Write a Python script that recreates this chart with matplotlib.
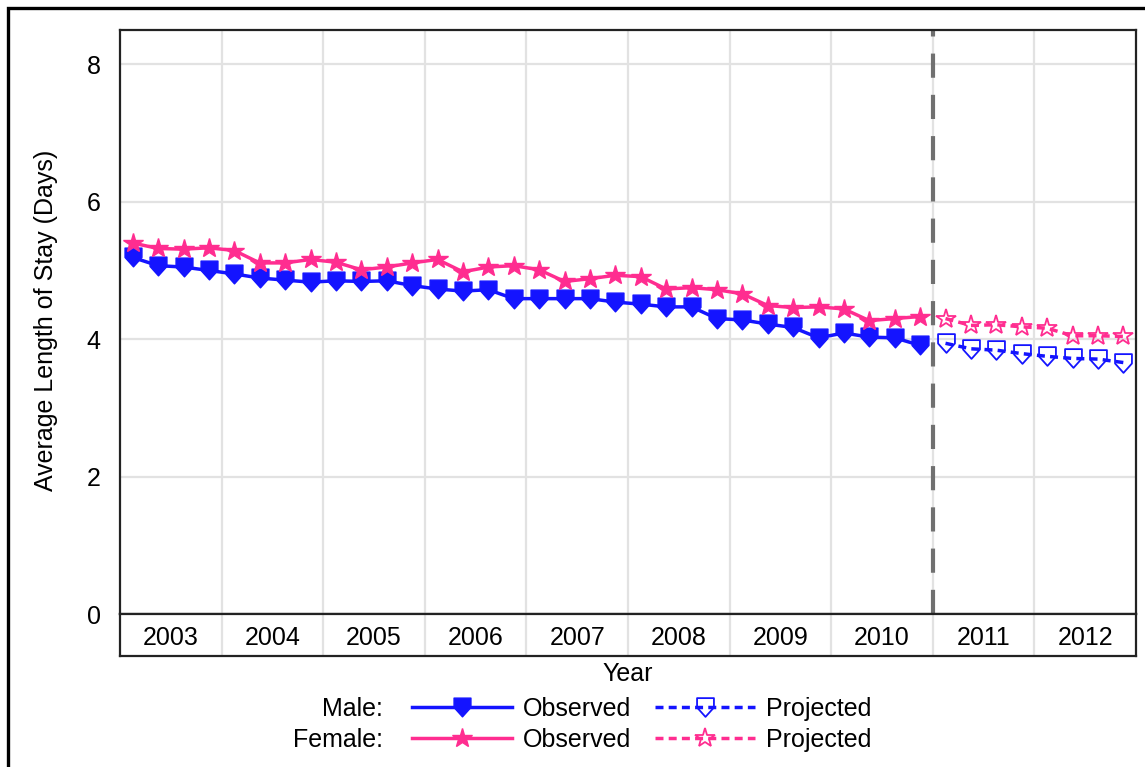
import numpy as np
import matplotlib
matplotlib.use("Agg")
import matplotlib.pyplot as plt
from matplotlib.path import Path
from matplotlib.lines import Line2D
from matplotlib.patches import Rectangle

plt.rcParams['font.family'] = ['Liberation Sans', 'DejaVu Sans']

# data: quarterly averages, observed 2003-2010, projected 2011-2012
years = [2003, 2004, 2005, 2006, 2007, 2008, 2009, 2010, 2011, 2012]
obs_years = np.repeat(years[:8], 4)
proj_years = np.repeat(years[8:], 4)
obs_qtr = np.tile([1, 2, 3, 4], 8)
proj_qtr = np.tile([1, 2, 3, 4], 2)

male_obs = [5.19, 5.07, 5.05, 5.00, 4.95, 4.89, 4.86, 4.83,
            4.85, 4.84, 4.85, 4.78, 4.73, 4.70, 4.72, 4.59,
            4.59, 4.59, 4.59, 4.54, 4.51, 4.47, 4.47, 4.30,
            4.28, 4.22, 4.17, 4.02, 4.09, 4.03, 4.02, 3.91]
female_obs = [5.40, 5.32, 5.31, 5.33, 5.29, 5.11, 5.11, 5.16,
              5.12, 5.01, 5.05, 5.11, 5.16, 4.98, 5.05, 5.07,
              5.01, 4.84, 4.88, 4.93, 4.91, 4.73, 4.75, 4.72,
              4.66, 4.49, 4.46, 4.47, 4.44, 4.27, 4.30, 4.33]
male_proj = [3.94, 3.86, 3.84, 3.79, 3.75, 3.72, 3.71, 3.66]
female_proj = [4.30, 4.20, 4.21, 4.18, 4.16, 4.05, 4.05, 4.04]

# quarter midpoints on a decimal-year axis
x_obs = obs_years + (obs_qtr - 0.5) / 4
x_proj = proj_years + (proj_qtr - 0.5) / 4

blue = '#1414FF'
pink = '#FF2D90'
grid_c = '#E2E2E2'
fs = 18
dash = (0, (2.3, 1.5))

# home-plate marker (square on top of a downward triangle)
plate = Path([(-0.9, 1), (0.9, 1), (0.9, 0), (0, -1), (-0.9, 0), (-0.9, 1)],
             [Path.MOVETO, Path.LINETO, Path.LINETO, Path.LINETO, Path.LINETO, Path.CLOSEPOLY])
male_style = dict(color=blue, lw=2.5, marker=plate, ms=13.5, mec=blue)
female_style = dict(color=pink, lw=2.5, marker='*', ms=15, mec=pink)

W, H = 1145, 767
fig = plt.figure(figsize=(W / 100, H / 100), dpi=100)

ax = fig.add_axes([120 / W, 1 - 614 / H, 1016 / W, 584 / H])
band = fig.add_axes([120 / W, 1 - 656 / H, 1016 / W, 42 / H])

ax.set_xlim(years[0], years[-1] + 1)
ax.set_ylim(0, 8.5)
ax.set_yticks([0, 2, 4, 6, 8])
ax.set_xticks(years[1:])
ax.tick_params(axis='x', length=0, labelbottom=False)
ax.tick_params(axis='y', length=0, labelsize=fs, pad=14)
ax.grid(True, color=grid_c, lw=1.6)
ax.set_axisbelow(True)
for s in ax.spines.values():
    s.set_linewidth(1.6)
    s.set_color('#222222')

ax.axvline(2011, color='#707070', lw=3, linestyle=(0, (5.8, 4.1)), zorder=1.5)

ax.plot(x_obs, male_obs, mfc=blue, zorder=3, **male_style)
ax.plot(x_obs, female_obs, mfc=pink, zorder=4, **female_style)
ax.plot(x_proj, male_proj, linestyle=dash, mfc='none', mew=1.3, zorder=3, **male_style)
ax.plot(x_proj, female_proj, linestyle=dash, mfc='none', mew=1.3, zorder=4, **female_style)

# year band under the plot
band.set_xlim(ax.get_xlim())
band.set_ylim(0, 1)
band.set_xticks([])
band.set_yticks([])
for y in years[1:]:
    band.axvline(y, color=grid_c, lw=1.6)
for y in years:
    band.text(y + 0.5, 0.42, str(y), ha='center', va='center', fontsize=fs)
for s in band.spines.values():
    s.set_linewidth(1.6)
    s.set_color('#222222')

fig.text(46 / W, 1 - 320 / H, 'Average Length of Stay (Days)', rotation=90,
         ha='center', va='center', fontsize=fs)
fig.text(628 / W, 1 - 674 / H, 'Year', ha='center', va='center', fontsize=fs)

# legend
h_mo = Line2D([], [], mfc=blue, **male_style)
h_fo = Line2D([], [], mfc=pink, **female_style)
h_mp = Line2D([], [], linestyle=dash, mfc='none', mew=1.3, **male_style)
h_fp = Line2D([], [], linestyle=dash, mfc='none', mew=1.3, **female_style)
fig.legend([h_mo, h_fo, h_mp, h_fp], ['Observed', 'Observed', 'Projected', 'Projected'],
           ncol=2, loc='upper left', bbox_to_anchor=(412 / W, 1 - 697 / H),
           frameon=False, fontsize=fs, handlelength=4.0, handletextpad=0.45,
           columnspacing=0.92, labelspacing=0.28, borderpad=0, borderaxespad=0)
fig.text(383 / W, 1 - 709 / H, 'Male:', ha='right', va='center', fontsize=fs)
fig.text(383 / W, 1 - 740 / H, 'Female:', ha='right', va='center', fontsize=fs)

# outer frame (cropped at right and bottom)
fig.patches.append(Rectangle((8 / W, -0.2), 1.5, 1.2 - 8 / H, transform=fig.transFigure,
                             fill=False, lw=2.4, edgecolor='black', clip_on=False))

fig.savefig('out.png', dpi=100)
